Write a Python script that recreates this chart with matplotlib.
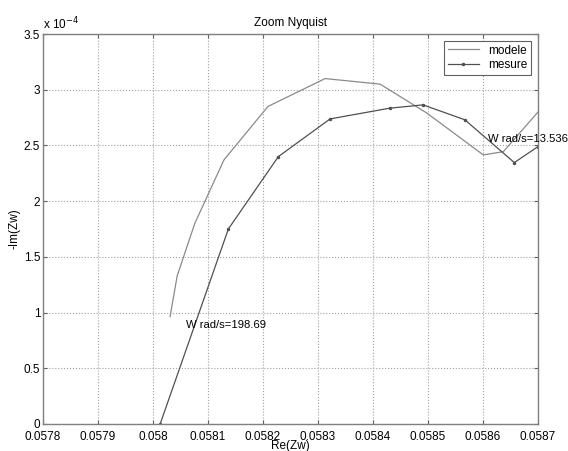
import numpy as np
import matplotlib
matplotlib.use('Agg')
import matplotlib.pyplot as plt

plt.rcParams['font.family'] = ['Liberation Sans', 'DejaVu Sans']

# Données
modele_re = [0.058031, 0.058044, 0.058076, 0.058129, 0.058209, 0.058313,
             0.058413, 0.058498, 0.0586005, 0.058637, 0.0587]
modele_im = [0.963e-4, 1.33e-4, 1.80e-4, 2.37e-4, 2.85e-4, 3.10e-4,
             3.05e-4, 2.79e-4, 2.415e-4, 2.444e-4, 2.80e-4]

mesure_re = [0.058013, 0.058137, 0.058228, 0.058322, 0.05843, 0.058491,
             0.058567, 0.058657, 0.0587]
mesure_im = [0.0, 1.75e-4, 2.40e-4, 2.738e-4, 2.834e-4, 2.864e-4,
             2.73e-4, 2.346e-4, 2.49e-4]

# annotations de frequence
annot_txt = ['W rad/s=198.69', 'W rad/s=13.536']
annot_re = [0.05806, 0.058609]
annot_im = [0.89e-4, 2.556e-4]

xticks = np.round(np.arange(0.0578, 0.05871, 0.0001), 4)
xtick_labels = ['0.0578', '0.0579', '0.058', '0.0581', '0.0582', '0.0583',
                '0.0584', '0.0585', '0.0586', '0.0587']
yticks = [0, 0.5e-4, 1e-4, 1.5e-4, 2e-4, 2.5e-4, 3e-4, 3.5e-4]
ytick_labels = ['0', '0.5', '1', '1.5', '2', '2.5', '3', '3.5']

fig = plt.figure(figsize=(5.68, 4.51), dpi=100)
ax = fig.add_axes([0.0757, 0.0599, 0.8715, 0.8647])

ax.plot(modele_re, modele_im, color='#8a8a8a', lw=0.9, label='modele')
ax.plot(mesure_re, mesure_im, color='#505050', lw=0.9, marker='.',
        markersize=3, label='mesure')

for t, x, y in zip(annot_txt, annot_re, annot_im):
    ax.text(x, y, t, fontsize=8.1, va='center', ha='left', clip_on=False)

ax.set_xlim(0.0578, 0.0587)
ax.set_ylim(0, 3.5e-4)
ax.set_xticks(xticks)
ax.set_xticklabels(xtick_labels)
ax.set_yticks(yticks)
ax.set_yticklabels(ytick_labels)
ax.tick_params(direction='in', top=True, right=True, labelsize=8.5,
               length=3, color='#606060', pad=2)
ax.tick_params(axis='x', pad=5)
ax.grid(True, linestyle=':', color='#a0a0a0', lw=0.8)
for s in ax.spines.values():
    s.set_color('#808080')
    s.set_linewidth(1.0)

ax.text(0.0, 1.005, r'x 10$^{-4}$', transform=ax.transAxes, fontsize=8.5,
        ha='left', va='bottom')
ax.set_title('Zoom Nyquist', fontsize=8.5, pad=6)
ax.set_xlabel('Re(Zw)', fontsize=8.5, labelpad=-2)
ax.set_ylabel('-Im(Zw)', fontsize=8.5, labelpad=2)

leg = ax.legend(loc='upper right', fontsize=8.5, fancybox=False,
                edgecolor='#606060', framealpha=1, borderaxespad=0.6,
                handlelength=2.6, borderpad=0.3, labelspacing=0.2)
leg.get_frame().set_linewidth(0.8)

fig.savefig('out.png', dpi=100)
